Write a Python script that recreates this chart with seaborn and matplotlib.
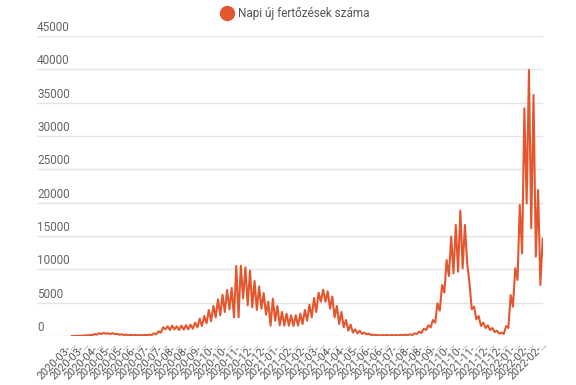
import pandas as pd
import matplotlib
matplotlib.use('Agg')
import matplotlib.pyplot as plt
from matplotlib.lines import Line2D
import seaborn as sns

# Daily new infections (every 3.5 days)
start_date = '2020-03-04'
new_cases = [
    0, 5, 10, 20, 40, 60, 100, 80, 150, 120,
    300, 200, 420, 300, 450, 350, 400, 300, 420, 280,
    300, 200, 250, 150, 200, 120, 180, 100, 150, 90,
    150, 100, 180, 120, 200, 150, 400, 250, 700, 500,
    1300, 1000, 1450, 900, 1550, 1000, 1450, 900, 1550, 950,
    1600, 1000, 1700, 1100, 2000, 1300, 2600, 1500, 3000, 1900,
    3900, 2200, 4500, 2800, 5500, 3100, 6200, 3600, 6900, 4000,
    7200, 2800, 10500, 2800, 10550, 5650, 10300, 4600, 9800, 4300,
    8250, 3900, 7450, 4100, 6450, 3200, 5150, 1550, 5600, 2300,
    4500, 1600, 3600, 1550, 3350, 1550, 3100, 1500, 3100, 1550,
    3350, 1800, 3900, 2300, 4700, 2800, 5700, 3600, 6500, 5150,
    6950, 5150, 6700, 4100, 5900, 2800, 4500, 1800, 3600, 1300,
    2400, 800, 1700, 500, 1000, 400, 800, 300, 500, 250,
    350, 150, 200, 100, 150, 80, 150, 80, 150, 80,
    150, 80, 150, 90, 180, 100, 200, 120, 250, 150,
    400, 300, 650, 450, 1100, 900, 1600, 1300, 2400, 2000,
    4900, 3800, 7650, 6500, 11400, 9000, 14900, 9400, 16650, 9650,
    18800, 10150, 16650, 10900, 7900, 4000, 4400, 2500, 3000, 1500,
    2000, 1200, 1600, 900, 1200, 600, 800, 350, 500, 300,
    1500, 1200, 6150, 4400, 10150, 8400, 19650, 12400, 34150, 19900,
    39900, 16150, 36150, 11900, 21900, 7650, 14650,
]

tick_months = [
    '2020-03', '2020-03', '2020-04', '2020-05', '2020-05', '2020-06',
    '2020-07', '2020-07', '2020-08', '2020-08', '2020-09', '2020-10',
    '2020-10', '2020-11', '2020-12', '2020-12', '2021-01', '2021-02',
    '2021-02', '2021-03', '2021-04', '2021-04', '2021-05', '2021-06',
    '2021-06', '2021-07', '2021-08', '2021-08', '2021-09', '2021-10',
    '2021-10', '2021-11', '2021-12', '2021-12', '2022-01', '2022-02',
    '2022-02',
]
y_ticks = [0, 5000, 10000, 15000, 20000, 25000, 30000, 35000, 40000, 45000]
series_name = 'Napi új fertőzések száma'

line_color = '#e4572e'

df = pd.DataFrame({
    'date': pd.date_range(start_date, periods=len(new_cases), freq='84h'),
    'cases': new_cases,
})
tick_dates = pd.date_range(start_date, periods=len(tick_months), freq='20D')

sns.set_theme(style='white')
plt.rcParams['font.family'] = ['Roboto', 'DejaVu Sans']

fig = plt.figure(figsize=(5.76, 3.85), dpi=100)
ax = fig.add_axes([37 / 576, 49 / 385, 506 / 576, 300 / 385])

sns.lineplot(data=df, x='date', y='cases', ax=ax, color=line_color,
             linewidth=1.5, legend=False)

ax.set_ylim(0, 45000)
ax.set_xlim(df['date'].iloc[0] - pd.Timedelta(days=53),
            df['date'].iloc[-1] + pd.Timedelta(days=0.5))

# horizontal grid, labels sitting above each line on the left
ax.set_yticks(y_ticks)
ax.set_yticklabels([])
ax.grid(axis='y', color='#e3e3e3', linewidth=1)
ax.grid(axis='x', visible=False)
for v in y_ticks:
    ax.annotate(str(v), xy=(0, v), xycoords=ax.get_yaxis_transform(),
                xytext=(0, 1.5), textcoords='offset points',
                ha='left', va='bottom', fontsize=8.5, color='#666666')

ax.set_xticks(tick_dates)
ax.set_xticklabels([m + '-…' for m in tick_months], rotation=45, ha='right',
                   rotation_mode='anchor', fontsize=7.8, color='#555555')
ax.tick_params(axis='both', length=0)
ax.tick_params(axis='x', pad=2)
ax.set_xlabel('')
ax.set_ylabel('')
sns.despine(ax=ax, left=True, bottom=True)

handle = Line2D([], [], marker='o', linestyle='', color=line_color,
                markersize=10)
fig.legend(handles=[handle], labels=[series_name], loc='center',
           bbox_to_anchor=(295 / 576, 1 - 14 / 385), frameon=False,
           fontsize=8.5, labelcolor='#555555', handletextpad=0.3,
           handlelength=1.2)

fig.savefig('out.png', dpi=100)
